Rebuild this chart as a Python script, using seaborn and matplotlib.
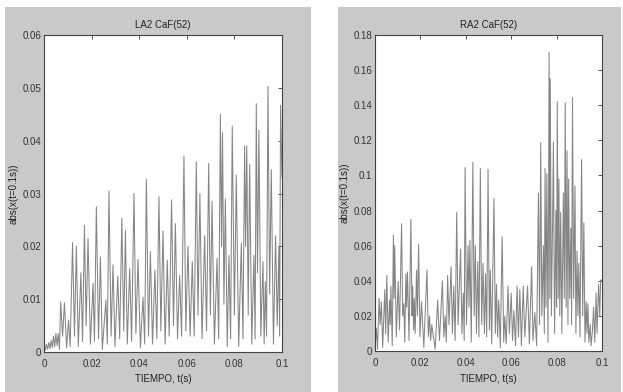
import matplotlib
matplotlib.use("Agg")
import matplotlib.pyplot as plt
import seaborn as sns
import numpy as np
from matplotlib.patches import Rectangle
from matplotlib.ticker import FixedLocator, FixedFormatter

sns.set_style("white")
plt.rcParams['font.family'] = ['Liberation Sans Narrow', 'Liberation Sans', 'DejaVu Sans']

# ---- data (peaks and troughs) ----
left_t = [0.0000, 0.0005, 0.0010, 0.0015, 0.0020, 0.0025, 0.0030, 0.0035, 0.0040, 0.0045,
          0.0050, 0.0055, 0.0060, 0.0065, 0.0070, 0.0078, 0.0086, 0.0095, 0.0103, 0.0110,
          0.0120, 0.0128, 0.0136, 0.0144, 0.0155, 0.0162, 0.0170, 0.0177, 0.0185, 0.0195,
          0.0206, 0.0212, 0.0220, 0.0229, 0.0237, 0.0245, 0.0260, 0.0266, 0.0273, 0.0282,
          0.0290, 0.0298, 0.0310, 0.0318, 0.0327, 0.0335, 0.0342, 0.0350, 0.0360, 0.0368,
          0.0378, 0.0386, 0.0395, 0.0405, 0.0416, 0.0423, 0.0430, 0.0439, 0.0447, 0.0456,
          0.0466, 0.0474, 0.0483, 0.0491, 0.0500, 0.0509, 0.0518, 0.0526, 0.0536, 0.0544,
          0.0552, 0.0561, 0.0570, 0.0578, 0.0588, 0.0596, 0.0605, 0.0614, 0.0623, 0.0631,
          0.0640, 0.0647, 0.0655, 0.0664, 0.0675, 0.0683, 0.0692, 0.0699, 0.0706, 0.0716,
          0.0727, 0.0734, 0.0741, 0.0746, 0.0750, 0.0756, 0.0762, 0.0770, 0.0777, 0.0784,
          0.0791, 0.0800, 0.0808, 0.0818, 0.0829, 0.0836, 0.0843, 0.0847, 0.0852, 0.0858,
          0.0864, 0.0873, 0.0882, 0.0887, 0.0892, 0.0897, 0.0903, 0.0911, 0.0920, 0.0925,
          0.0930, 0.0935, 0.0941, 0.0948, 0.0955, 0.0964, 0.0973, 0.0980, 0.0987, 0.0990,
          0.0994, 0.1000]
left_v = [0.0010, 0.0003, 0.0015, 0.0005, 0.0018, 0.0006, 0.0022, 0.0008, 0.0030, 0.0010,
          0.0035, 0.0012, 0.0035, 0.0005, 0.0095, 0.0030, 0.0093, 0.0008, 0.0060, 0.0010,
          0.0207, 0.0030, 0.0200, 0.0010, 0.0150, 0.0020, 0.0240, 0.0050, 0.0215, 0.0015,
          0.0130, 0.0020, 0.0275, 0.0025, 0.0180, 0.0005, 0.0098, 0.0015, 0.0305, 0.0030,
          0.0165, 0.0010, 0.0143, 0.0025, 0.0253, 0.0040, 0.0230, 0.0015, 0.0158, 0.0020,
          0.0300, 0.0035, 0.0175, 0.0008, 0.0104, 0.0015, 0.0327, 0.0030, 0.0190, 0.0015,
          0.0155, 0.0025, 0.0294, 0.0040, 0.0229, 0.0015, 0.0174, 0.0030, 0.0288, 0.0050,
          0.0243, 0.0025, 0.0145, 0.0030, 0.0371, 0.0040, 0.0200, 0.0030, 0.0171, 0.0030,
          0.0360, 0.0070, 0.0300, 0.0025, 0.0220, 0.0040, 0.0357, 0.0070, 0.0285, 0.0015,
          0.0177, 0.0025, 0.0450, 0.0200, 0.0415, 0.0090, 0.0290, 0.0010, 0.0183, 0.0025,
          0.0428, 0.0070, 0.0335, 0.0010, 0.0206, 0.0025, 0.0390, 0.0200, 0.0390, 0.0070,
          0.0355, 0.0015, 0.0183, 0.0025, 0.0470, 0.0150, 0.0420, 0.0030, 0.0171, 0.0015,
          0.0133, 0.0030, 0.0503, 0.0110, 0.0345, 0.0015, 0.0220, 0.0050, 0.0200, 0.0030,
          0.0467, 0.0330]

right_t = [0.0000, 0.0006, 0.0011, 0.0018, 0.0023, 0.0028, 0.0034, 0.0043, 0.0047, 0.0052,
           0.0058, 0.0064, 0.0067, 0.0070, 0.0076, 0.0081, 0.0084, 0.0087, 0.0094, 0.0102,
           0.0108, 0.0117, 0.0122, 0.0127, 0.0131, 0.0136, 0.0139, 0.0143, 0.0150, 0.0158,
           0.0163, 0.0166, 0.0170, 0.0173, 0.0177, 0.0183, 0.0187, 0.0192, 0.0198, 0.0205,
           0.0215, 0.0229, 0.0235, 0.0240, 0.0245, 0.0250, 0.0265, 0.0276, 0.0284, 0.0297,
           0.0303, 0.0309, 0.0314, 0.0320, 0.0326, 0.0335, 0.0341, 0.0347, 0.0353, 0.0360,
           0.0366, 0.0377, 0.0383, 0.0389, 0.0393, 0.0397, 0.0403, 0.0410, 0.0414, 0.0418,
           0.0424, 0.0431, 0.0437, 0.0442, 0.0447, 0.0453, 0.0458, 0.0464, 0.0470, 0.0476,
           0.0482, 0.0487, 0.0492, 0.0498, 0.0504, 0.0508, 0.0514, 0.0524, 0.0530, 0.0535,
           0.0540, 0.0545, 0.0552, 0.0560, 0.0567, 0.0572, 0.0578, 0.0586, 0.0592, 0.0600,
           0.0606, 0.0612, 0.0619, 0.0626, 0.0632, 0.0638, 0.0645, 0.0653, 0.0660, 0.0672,
           0.0680, 0.0690, 0.0696, 0.0704, 0.0712, 0.0720, 0.0725, 0.0730, 0.0735, 0.0742,
           0.0746, 0.0749, 0.0753, 0.0757, 0.0762, 0.0767, 0.0770, 0.0772, 0.0777, 0.0782,
           0.0786, 0.0791, 0.0797, 0.0800, 0.0803, 0.0807, 0.0810, 0.0814, 0.0818, 0.0823,
           0.0830, 0.0834, 0.0838, 0.0842, 0.0846, 0.0850, 0.0853, 0.0858, 0.0863, 0.0866,
           0.0870, 0.0875, 0.0881, 0.0885, 0.0890, 0.0894, 0.0898, 0.0903, 0.0910, 0.0915,
           0.0920, 0.0925, 0.0930, 0.0934, 0.0938, 0.0942, 0.0948, 0.0952, 0.0958, 0.0963,
           0.0968, 0.0974, 0.0978, 0.0985, 0.0990, 0.0994, 0.1000]
right_v = [0.0020, 0.0130, 0.0010, 0.0300, 0.0150, 0.0280, 0.0020, 0.0350, 0.0100, 0.0430,
           0.0050, 0.0290, 0.0150, 0.0370, 0.0030, 0.0660, 0.0300, 0.0600, 0.0080, 0.0396,
           0.0120, 0.0725, 0.0200, 0.0270, 0.0050, 0.0440, 0.0250, 0.0450, 0.0060, 0.0750,
           0.0200, 0.0370, 0.0120, 0.0300, 0.0100, 0.0460, 0.0200, 0.0610, 0.0080, 0.0280,
           0.0020, 0.0460, 0.0080, 0.0200, 0.0060, 0.0150, 0.0010, 0.0290, 0.0060, 0.0400,
           0.0080, 0.0200, 0.0050, 0.0430, 0.0150, 0.0480, 0.0100, 0.0370, 0.0060, 0.0790,
           0.0150, 0.0580, 0.0100, 0.0330, 0.0060, 0.1045, 0.0150, 0.0600, 0.0250, 0.0630,
           0.0050, 0.1075, 0.0200, 0.0600, 0.0100, 0.0510, 0.0080, 0.1040, 0.0150, 0.0500,
           0.0100, 0.0440, 0.0080, 0.1035, 0.0120, 0.0460, 0.0040, 0.0870, 0.0100, 0.0380,
           0.0080, 0.0290, 0.0020, 0.0650, 0.0050, 0.0200, 0.0040, 0.0370, 0.0100, 0.0330,
           0.0060, 0.0230, 0.0030, 0.0370, 0.0080, 0.0350, 0.0030, 0.0370, 0.0080, 0.0370,
           0.0040, 0.0480, 0.0060, 0.0220, 0.0030, 0.0900, 0.0150, 0.1186, 0.0200, 0.0600,
           0.0100, 0.1040, 0.0250, 0.1010, 0.0050, 0.1700, 0.0300, 0.1550, 0.0200, 0.0700,
           0.1190, 0.0100, 0.0800, 0.0250, 0.1420, 0.0300, 0.0980, 0.0200, 0.0790, 0.0100,
           0.0900, 0.0300, 0.1415, 0.0250, 0.1140, 0.0150, 0.0980, 0.0300, 0.0700, 0.0150,
           0.1444, 0.0300, 0.0940, 0.0100, 0.0570, 0.0200, 0.0500, 0.0080, 0.1090, 0.0200,
           0.0730, 0.0050, 0.0280, 0.0100, 0.0270, 0.0050, 0.0150, 0.0030, 0.0120, 0.0250,
           0.0050, 0.0330, 0.0100, 0.0380, 0.0200, 0.0405, 0.0400]

titles = ["LA2 CaF(52)", "RA2 CaF(52)"]
xlabel = "TIEMPO, t(s)"
ylabel = "abs(x(t=0.1s))"
x_ticks = [0, 0.02, 0.04, 0.06, 0.08, 0.1]
x_ticklabels = ["0", "0.02", "0.04", "0.06", "0.08", "0.1"]
left_yticks = [0, 0.01, 0.02, 0.03, 0.04, 0.05, 0.06]
left_yticklabels = ["0", "0.01", "0.02", "0.03", "0.04", "0.05", "0.06"]
right_yticks = [0, 0.02, 0.04, 0.06, 0.08, 0.10, 0.12, 0.14, 0.16, 0.18]
right_yticklabels = ["0", "0.02", "0.04", "0.06", "0.08", "0.1", "0.12", "0.14", "0.16", "0.18"]

W, H = 623, 392
fig = plt.figure(figsize=(W / 100, H / 100), dpi=100)
fig.patch.set_facecolor("white")

panel_gray = "#c9c9c9"
fig.patches.append(Rectangle((5 / W, 0), 306 / W, 385 / H, transform=fig.transFigure,
                             facecolor=panel_gray, edgecolor="none", zorder=-5))
fig.patches.append(Rectangle((338 / W, 0), 283 / W, 385 / H, transform=fig.transFigure,
                             facecolor=panel_gray, edgecolor="none", zorder=-5))

ax1 = fig.add_axes([44 / W, 40 / H, 238 / W, 317 / H])
ax2 = fig.add_axes([375 / W, 41 / H, 227 / W, 316 / H])

line_color = "#858585"
specs = [
    (ax1, left_t, left_v, left_yticks, left_yticklabels, 0.06, titles[0]),
    (ax2, right_t, right_v, right_yticks, right_yticklabels, 0.18, titles[1]),
]
for ax, t, v, yt, ytl, ymax, title in specs:
    ax.set_zorder(2)
    ax.set_facecolor("white")
    sns.lineplot(x=np.array(t), y=np.array(v), ax=ax, color=line_color,
                 linewidth=0.75, estimator=None, sort=False)
    ax.set_xlim(0, 0.1)
    ax.set_ylim(0, ymax)
    ax.xaxis.set_major_locator(FixedLocator(x_ticks))
    ax.xaxis.set_major_formatter(FixedFormatter(x_ticklabels))
    ax.yaxis.set_major_locator(FixedLocator(yt))
    ax.yaxis.set_major_formatter(FixedFormatter(ytl))
    ax.tick_params(direction="in", length=3, width=0.6, colors="#333333",
                   labelsize=7, top=True, right=True, pad=2)
    ax.tick_params(axis="x", pad=5)
    for sp in ax.spines.values():
        sp.set_visible(True)
        sp.set_color("#444444")
        sp.set_linewidth(0.8)
    ax.set_title(title, fontsize=7, color="#222222", pad=5)
    ax.set_xlabel(xlabel, fontsize=7, color="#222222", labelpad=4)
    ax.set_ylabel(ylabel, fontsize=7, color="#222222", labelpad=3)

fig.savefig("out.png", dpi=100, facecolor="white")
